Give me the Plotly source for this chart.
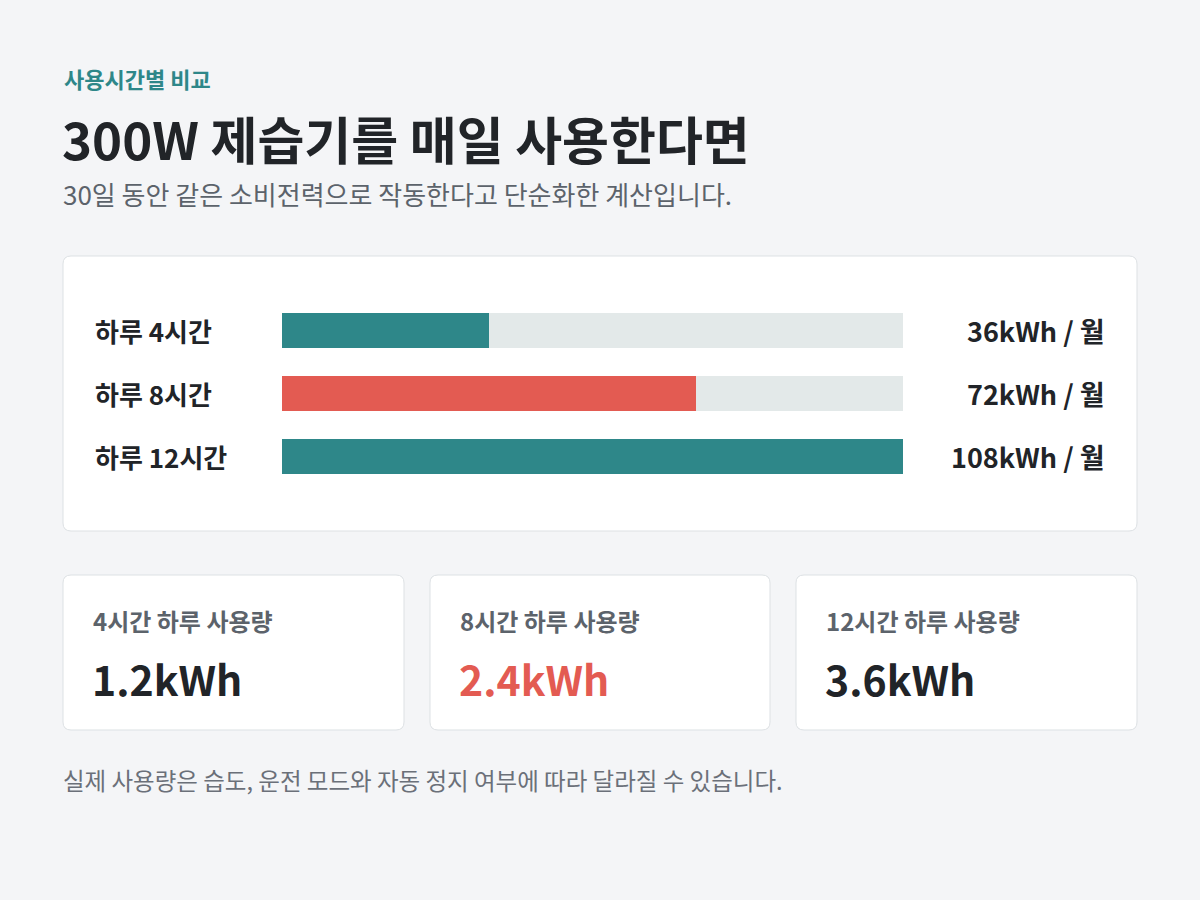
import plotly.graph_objects as go

# ---- data ----
hours = [4, 8, 12]
bar_labels = ["하루 4시간", "하루 8시간", "하루 12시간"]
monthly_kwh = [36, 72, 108]
daily_kwh = [1.2, 2.4, 3.6]
card_labels = ["4시간 하루 사용량", "8시간 하루 사용량", "12시간 하루 사용량"]
highlight = [False, True, False]

# ---- style ----
W, H = 1200, 900
BG = "#f4f5f7"
TEAL = "#2e8789"
RED = "#e35b52"
TRACK = "#e3e9e9"
DARK = "#212428"
GRAY = "#5c636b"
BORDER = "#dde1e4"
FONT = "Noto Sans CJK KR"


def px(x):
    return x / W


def py(y):
    return 1 - y / H


def rrect(x0, y0, x1, y1, r):
    def P(x, y):
        return f"{px(x):.5f},{py(y):.5f}"
    d = (f"M {P(x0 + r, y0)} L {P(x1 - r, y0)} Q {P(x1, y0)} {P(x1, y0 + r)} "
         f"L {P(x1, y1 - r)} Q {P(x1, y1)} {P(x1 - r, y1)} "
         f"L {P(x0 + r, y1)} Q {P(x0, y1)} {P(x0, y1 - r)} "
         f"L {P(x0, y0 + r)} Q {P(x0, y0)} {P(x0 + r, y0)} Z")
    return dict(type="path", xref="paper", yref="paper", path=d,
                fillcolor="white", line=dict(color=BORDER, width=1), layer="below")


colors = [RED if h else TEAL for h in highlight]
vmax = max(monthly_kwh)

fig = go.Figure()
fig.add_trace(go.Bar(
    y=bar_labels, x=[vmax] * len(bar_labels), orientation="h",
    marker=dict(color=TRACK, line=dict(width=0)), width=0.54,
    hoverinfo="skip", showlegend=False))
fig.add_trace(go.Bar(
    y=bar_labels, x=monthly_kwh, orientation="h",
    marker=dict(color=colors, line=dict(width=0)), width=0.54,
    showlegend=False))

# bar axis geometry (pixels)
bx0, bx1 = 282, 903
row_top, row_step = 298.5, 63
n = len(bar_labels)
dom_top = row_top
dom_bot = row_top + row_step * n

fig.update_layout(
    width=W, height=H, margin=dict(l=0, r=0, t=0, b=0),
    paper_bgcolor=BG, plot_bgcolor="rgba(0,0,0,0)",
    barmode="overlay", bargap=0,
    xaxis=dict(domain=[px(bx0), px(bx1)], range=[0, vmax], visible=False, fixedrange=True),
    yaxis=dict(domain=[py(dom_bot), py(dom_top)], range=[n - 0.5, -0.5],
               type="category", categoryorder="array", categoryarray=bar_labels,
               visible=False, fixedrange=True),
    font=dict(family=FONT),
)

shapes = [rrect(63, 256, 1137, 531, 8)]
annotations = []


def text(t, x, y, size, color, weight=400, anchor="left", yref="paper"):
    annotations.append(dict(text=t, x=px(x), y=(py(y) if yref == "paper" else y),
                            xref="paper", yref=yref, xanchor=anchor, yanchor="middle",
                            showarrow=False,
                            font=dict(size=size, color=color, family=FONT, weight=weight)))


# header
text("사용시간별 비교", 62, 78, 22, TEAL, 700)
text("300W 제습기를 매일 사용한다면", 60, 138, 51, DARK, 700)
text("30일 동안 같은 소비전력으로 작동한다고 단순화한 계산입니다.", 61, 193, 26, GRAY)

# bar labels
for lab, v in zip(bar_labels, monthly_kwh):
    text(lab, 93, lab, 26, DARK, 700, yref="y")
    text(f"{v}kWh / 월", 1107, lab, 27, DARK, 700, anchor="right", yref="y")

# cards
card_x = [(63, 404), (430, 770), (796, 1137)]
for (cx0, cx1), lab, d, h in zip(card_x, card_labels, daily_kwh, highlight):
    shapes.append(rrect(cx0, 575, cx1, 730, 8))
    text(lab, cx0 + 28, 620, 24, GRAY, 700)
    text(f"{d:.1f}kWh", cx0 + 27, 678, 41, RED if h else DARK, 700)

text("실제 사용량은 습도, 운전 모드와 자동 정지 여부에 따라 달라질 수 있습니다.", 61, 780, 23.5, "#6b7079")

fig.update_layout(shapes=shapes, annotations=annotations)
fig.write_html("out.html")
